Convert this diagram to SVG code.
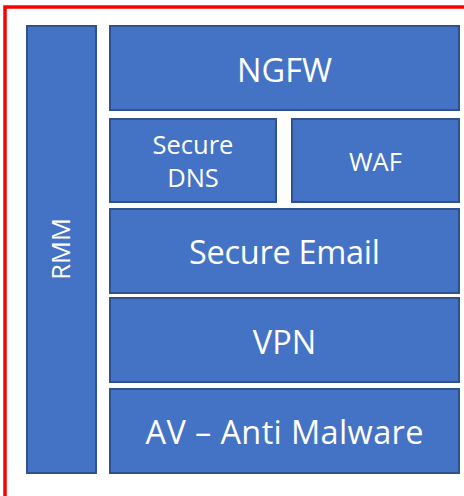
<svg xmlns="http://www.w3.org/2000/svg" width="464" height="496" viewBox="0 0 464 496">
<style>
.box{fill:#4472C4;stroke:#2F528F;stroke-width:2}
.lbl{fill:#FFFFFF;font-family:"Open Sans","Noto Sans","Liberation Sans",sans-serif;text-anchor:middle}
.big{font-size:32.5px}
.small{font-size:25.5px}
</style>
<rect x="0" y="0" width="464" height="496" fill="#FFFFFF"/>
<path d="M5,496 V7 H464" fill="none" stroke="#FF0000" stroke-width="3.5"/>
<g id="rmm">
<rect class="box" x="27" y="26" width="69" height="447"/>
<text class="lbl small" transform="translate(70,249) rotate(-90)" x="0" y="0">RMM</text>
</g>
<g id="ngfw">
<rect class="box" x="110" y="26" width="349" height="84"/>
<text class="lbl big" x="284.5" y="82">NGFW</text>
</g>
<g id="secure-dns">
<rect class="box" x="110" y="119" width="166" height="83"/>
<text class="lbl small" x="193" y="154">Secure</text>
<text class="lbl small" x="193" y="187">DNS</text>
</g>
<g id="waf">
<rect class="box" x="292" y="119" width="167" height="83"/>
<text class="lbl small" x="375.5" y="171">WAF</text>
</g>
<g id="secure-email">
<rect class="box" x="110" y="209" width="349" height="84"/>
<text class="lbl big" x="284.5" y="264" textLength="191">Secure Email</text>
</g>
<g id="vpn">
<rect class="box" x="110" y="298" width="349" height="84"/>
<text class="lbl big" x="284.5" y="354">VPN</text>
</g>
<g id="av">
<rect class="box" x="110" y="389" width="349" height="84"/>
<text class="lbl big" x="284.5" y="444" textLength="278">AV – Anti Malware</text>
</g>
<g id="connectors"></g>
</svg>
